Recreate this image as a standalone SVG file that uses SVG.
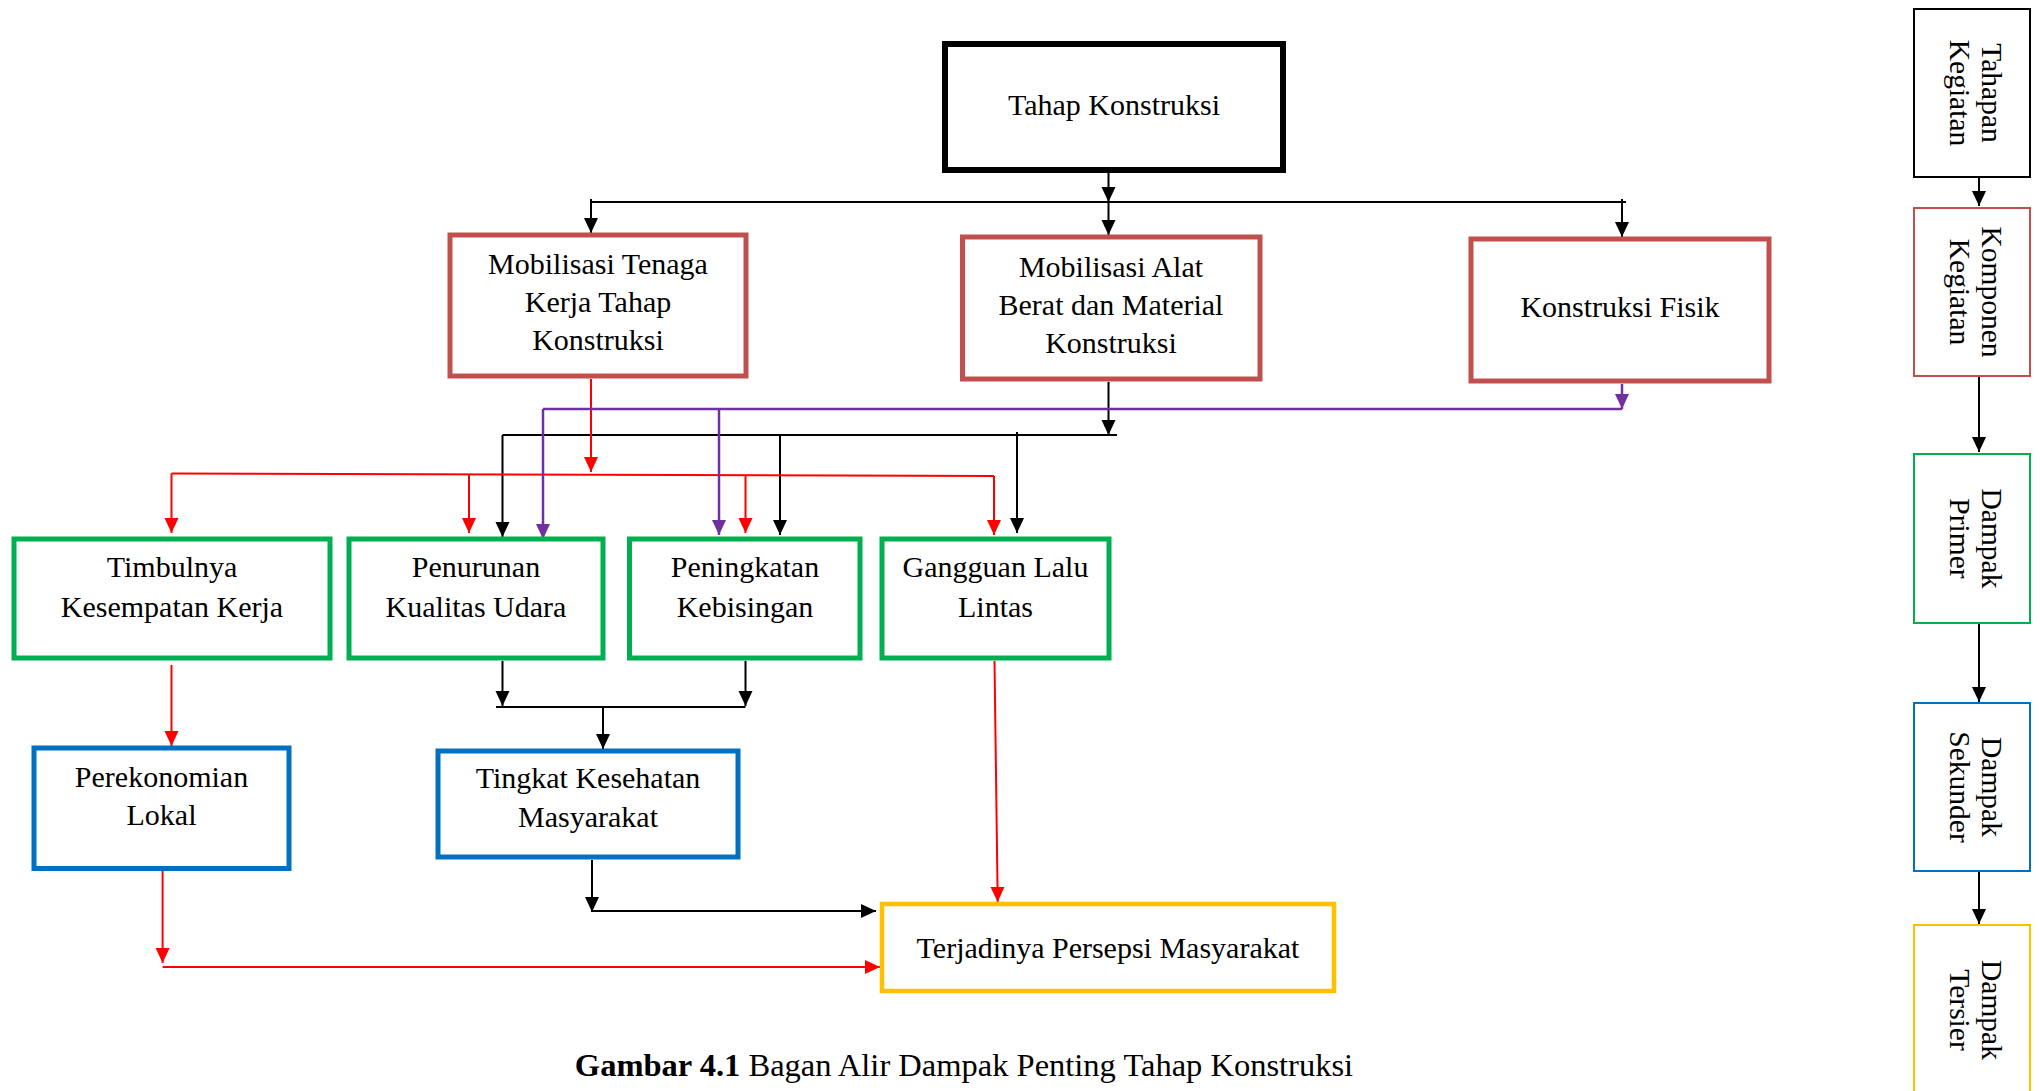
<svg xmlns="http://www.w3.org/2000/svg" width="2040" height="1091" viewBox="0 0 2040 1091">
<style>
text{font-family:"Liberation Serif","Times New Roman",serif;fill:#000}
.t{font-size:30px;text-anchor:middle}
.lg{font-size:29.5px;text-anchor:middle}
.cap{font-size:32.5px}
.box{fill:#fff}
.k{stroke:#000;stroke-width:6}
.r{stroke:#C0504D;stroke-width:5}
.g{stroke:#00B050;stroke-width:5}
.b{stroke:#0070C0;stroke-width:5}
.y{stroke:#FFC000;stroke-width:4.5}
.lk{fill:#fff;stroke:#000;stroke-width:2}
.lr{fill:#fff;stroke:#C0504D;stroke-width:2}
.lgr{fill:#fff;stroke:#00B050;stroke-width:2}
.lb{fill:#fff;stroke:#0070C0;stroke-width:2}
.ly{fill:#fff;stroke:#FFC000;stroke-width:2}
.ck{fill:none;stroke:#000;stroke-width:2}
.cr{fill:none;stroke:#FF0000;stroke-width:2}
.cp{fill:none;stroke:#7030A0;stroke-width:2.5}
</style>
<defs>
<marker id="ak" markerUnits="userSpaceOnUse" markerWidth="16" markerHeight="16" refX="15" refY="7" orient="auto"><path d="M0,0 L15,7 L0,14 z" fill="#000"/></marker>
<marker id="ar" markerUnits="userSpaceOnUse" markerWidth="16" markerHeight="16" refX="15" refY="7" orient="auto"><path d="M0,0 L15,7 L0,14 z" fill="#FF0000"/></marker>
<marker id="ap" markerUnits="userSpaceOnUse" markerWidth="16" markerHeight="16" refX="15" refY="7" orient="auto"><path d="M0,0 L15,7 L0,14 z" fill="#7030A0"/></marker>
</defs>

<g id="connectors">
<!-- black -->
<line class="ck" x1="1108.5" y1="173" x2="1108.5" y2="202" marker-end="url(#ak)"/>
<line class="ck" x1="1108.5" y1="202" x2="1108.5" y2="235" marker-end="url(#ak)"/>
<line class="ck" x1="591" y1="202" x2="1626" y2="202"/>
<line class="ck" x1="591" y1="199" x2="591" y2="233" marker-end="url(#ak)"/>
<line class="ck" x1="1622" y1="199" x2="1622" y2="237" marker-end="url(#ak)"/>
<line class="ck" x1="1108.5" y1="382" x2="1108.5" y2="435" marker-end="url(#ak)"/>
<line class="ck" x1="502.5" y1="435" x2="1117" y2="435"/>
<line class="ck" x1="502.5" y1="435" x2="502.5" y2="537" marker-end="url(#ak)"/>
<line class="ck" x1="780" y1="435" x2="780" y2="535" marker-end="url(#ak)"/>
<line class="ck" x1="1017" y1="432" x2="1017" y2="533" marker-end="url(#ak)"/>
<line class="ck" x1="502.5" y1="661" x2="502.5" y2="706" marker-end="url(#ak)"/>
<line class="ck" x1="745.5" y1="661" x2="745.5" y2="706" marker-end="url(#ak)"/>
<line class="ck" x1="496" y1="707" x2="745.5" y2="707"/>
<line class="ck" x1="603" y1="707" x2="603" y2="749" marker-end="url(#ak)"/>
<line class="ck" x1="592" y1="860" x2="592" y2="912" marker-end="url(#ak)"/>
<line class="ck" x1="592" y1="911" x2="876" y2="911" marker-end="url(#ak)"/>
<!-- red -->
<line class="cr" x1="591" y1="379" x2="591" y2="472" marker-end="url(#ar)"/>
<line class="cr" x1="171.5" y1="473.5" x2="994" y2="476"/>
<line class="cr" x1="171.5" y1="473.5" x2="171.5" y2="533" marker-end="url(#ar)"/>
<line class="cr" x1="469" y1="474.5" x2="469" y2="533" marker-end="url(#ar)"/>
<line class="cr" x1="745.5" y1="475" x2="745.5" y2="533" marker-end="url(#ar)"/>
<line class="cr" x1="994" y1="476" x2="994" y2="535" marker-end="url(#ar)"/>
<line class="cr" x1="171.5" y1="665" x2="171.5" y2="746" marker-end="url(#ar)"/>
<line class="cr" x1="162.6" y1="871" x2="162.6" y2="963" marker-end="url(#ar)"/>
<line class="cr" x1="162.6" y1="967" x2="880" y2="967" marker-end="url(#ar)"/>
<line class="cr" x1="994.5" y1="661" x2="997.7" y2="902" marker-end="url(#ar)"/>
<!-- purple -->
<line class="cp" x1="1622" y1="384" x2="1622" y2="409" marker-end="url(#ap)"/>
<line class="cp" x1="543" y1="409" x2="1622" y2="409"/>
<line class="cp" x1="543" y1="409" x2="543" y2="539" marker-end="url(#ap)"/>
<line class="cp" x1="719" y1="409" x2="719" y2="535" marker-end="url(#ap)"/>
<!-- legend -->
<line class="ck" x1="1979" y1="177" x2="1979" y2="206" marker-end="url(#ak)"/>
<line class="ck" x1="1979" y1="376" x2="1979" y2="452" marker-end="url(#ak)"/>
<line class="ck" x1="1979" y1="623" x2="1979" y2="702" marker-end="url(#ak)"/>
<line class="ck" x1="1979" y1="871" x2="1979" y2="924" marker-end="url(#ak)"/>
</g>

<g id="tahap-konstruksi"><rect class="box k" x="945" y="44" width="338" height="126"/><text class="t" x="1114" y="115">Tahap Konstruksi</text></g>
<g id="mob-tenaga"><rect class="box r" x="450" y="235" width="296" height="141"/><text class="t" x="598" y="274">Mobilisasi Tenaga</text><text class="t" x="598" y="312">Kerja Tahap</text><text class="t" x="598" y="350">Konstruksi</text></g>
<g id="mob-alat"><rect class="box r" x="962.5" y="237" width="297.5" height="142"/><text class="t" x="1111" y="277">Mobilisasi Alat</text><text class="t" x="1111" y="314.5">Berat dan Material</text><text class="t" x="1111" y="352.5">Konstruksi</text></g>
<g id="konstruksi-fisik"><rect class="box r" x="1471" y="239" width="298" height="142"/><text class="t" x="1620" y="317">Konstruksi Fisik</text></g>

<g id="timbulnya"><rect class="box g" x="14" y="539" width="316" height="119"/><text class="t" x="172" y="576.5">Timbulnya</text><text class="t" x="172" y="617">Kesempatan Kerja</text></g>
<g id="penurunan"><rect class="box g" x="349" y="539" width="254" height="119"/><text class="t" x="476" y="576.5">Penurunan</text><text class="t" x="476" y="617">Kualitas Udara</text></g>
<g id="peningkatan"><rect class="box g" x="629.5" y="539" width="230.5" height="119"/><text class="t" x="745" y="576.5">Peningkatan</text><text class="t" x="745" y="617">Kebisingan</text></g>
<g id="gangguan"><rect class="box g" x="882" y="539" width="227" height="119"/><text class="t" x="995.5" y="576.5">Gangguan Lalu</text><text class="t" x="995.5" y="617">Lintas</text></g>

<g id="perekonomian"><rect class="box b" x="34" y="748" width="255" height="120.5"/><text class="t" x="161.5" y="786.5">Perekonomian</text><text class="t" x="161.5" y="825">Lokal</text></g>
<g id="tingkat-kesehatan"><rect class="box b" x="438" y="751" width="300" height="106"/><text class="t" x="588" y="788">Tingkat Kesehatan</text><text class="t" x="588" y="827">Masyarakat</text></g>
<g id="terjadinya"><rect class="box y" x="882" y="904" width="452" height="87"/><text class="t" x="1108" y="958">Terjadinya Persepsi Masyarakat</text></g>

<g id="caption"><text class="cap" x="964" y="1076" text-anchor="middle"><tspan font-weight="bold">Gambar 4.1</tspan> Bagan Alir Dampak Penting Tahap Konstruksi</text></g>

<g id="legend-tahapan"><rect class="lk" x="1914" y="9" width="116" height="168"/><text class="lg" transform="translate(1982,93) rotate(90)"><tspan x="0" y="0">Tahapan</tspan><tspan x="0" y="32">Kegiatan</tspan></text></g>
<g id="legend-komponen"><rect class="lr" x="1914" y="208" width="116" height="168"/><text class="lg" transform="translate(1982,292) rotate(90)"><tspan x="0" y="0">Komponen</tspan><tspan x="0" y="32">Kegiatan</tspan></text></g>
<g id="legend-primer"><rect class="lgr" x="1914" y="454" width="116" height="169"/><text class="lg" transform="translate(1982,538.5) rotate(90)"><tspan x="0" y="0">Dampak</tspan><tspan x="0" y="32">Primer</tspan></text></g>
<g id="legend-sekunder"><rect class="lb" x="1914" y="703" width="116" height="168"/><text class="lg" transform="translate(1982,787) rotate(90)"><tspan x="0" y="0">Dampak</tspan><tspan x="0" y="32">Sekunder</tspan></text></g>
<g id="legend-tersier"><rect class="ly" x="1914" y="925" width="116" height="175"/><text class="lg" transform="translate(1982,1010) rotate(90)"><tspan x="0" y="0">Dampak</tspan><tspan x="0" y="32">Tersier</tspan></text></g>
</svg>
